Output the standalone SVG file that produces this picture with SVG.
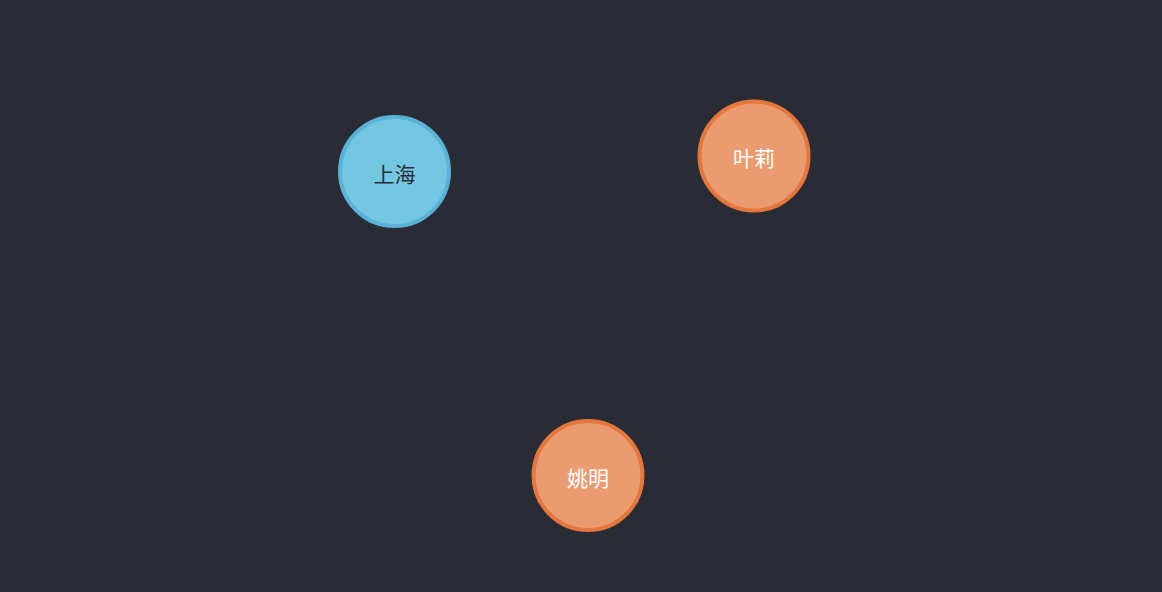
<svg xmlns="http://www.w3.org/2000/svg" width="1162" height="592" viewBox="0 0 1162 592">
<style>
.node circle{stroke-width:4}
.city circle{fill:#74c7e2;stroke:#59b3d8}
.person circle{fill:#ea9b6f;stroke:#e5773d}
text{font-family:"Noto Sans CJK SC","Noto Sans",sans-serif;font-size:21px;text-anchor:middle;dominant-baseline:central}
.city text{fill:#2a2d35}
.person text{fill:#ffffff}
</style>
<rect width="1162" height="592" fill="#292c34"/>
<g id="connectors"></g>
<g id="node-shanghai" class="node city"><circle cx="394.5" cy="171.5" r="54.5"/><text x="394.5" y="173">上海</text></g>
<g id="node-yeli" class="node person"><circle cx="754" cy="156" r="54.5"/><text x="754" y="157">叶莉</text></g>
<g id="node-yaoming" class="node person"><circle cx="588" cy="475.5" r="54.5"/><text x="588" y="476.5">姚明</text></g>
</svg>
